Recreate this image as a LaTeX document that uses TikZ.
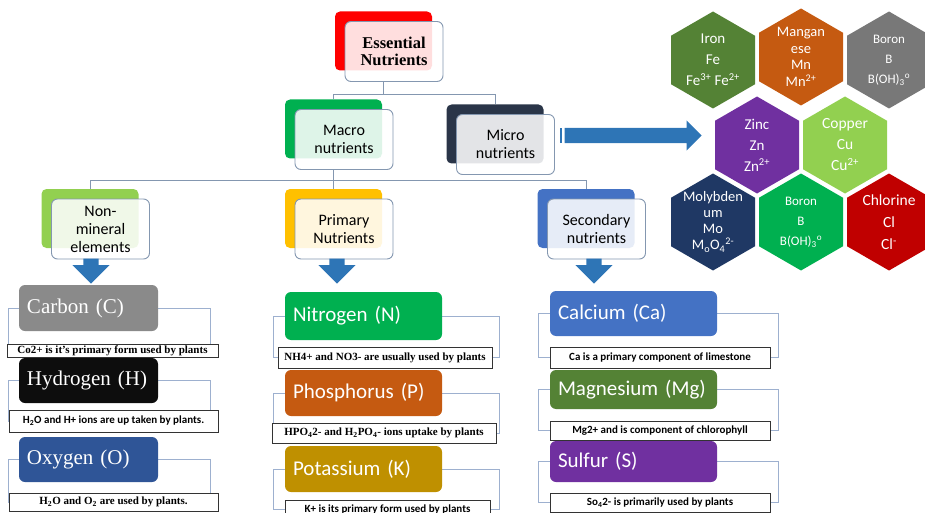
\documentclass[tikz,border=0pt]{standalone}
\usepackage{fontspec}
\setmainfont{Carlito}
\newfontfamily\timesf{Liberation Serif}
\usetikzlibrary{shapes.geometric, shapes.arrows, backgrounds}
\definecolor{linkgray}{HTML}{8497B0}
\definecolor{brackblue}{HTML}{9DB0CF}
\definecolor{arrblue}{HTML}{2E75B6}
\definecolor{essred}{HTML}{FF0000}
\definecolor{macrogreen}{HTML}{00B050}
\definecolor{micronavy}{HTML}{2A3548}
\definecolor{nongreen}{HTML}{92D050}
\definecolor{priyellow}{HTML}{FFC000}
\definecolor{secblue}{HTML}{4472C4}
\definecolor{carbgray}{HTML}{8A8A8A}
\definecolor{hydblack}{HTML}{0D0D0D}
\definecolor{oxyblue}{HTML}{2F5597}
\definecolor{nitgreen}{HTML}{00B050}
\definecolor{phosorange}{HTML}{C55A11}
\definecolor{potgold}{HTML}{BF9000}
\definecolor{calblue}{HTML}{4472C4}
\definecolor{maggreen}{HTML}{548235}
\definecolor{sulpurple}{HTML}{7030A0}
\definecolor{hexiron}{HTML}{548235}
\definecolor{hexmang}{HTML}{C55A11}
\definecolor{hexgray}{HTML}{787878}
\definecolor{hexzinc}{HTML}{7030A0}
\definecolor{hexcopper}{HTML}{92D050}
\definecolor{hexmoly}{HTML}{1F3864}
\definecolor{hexboron}{HTML}{00B050}
\definecolor{hexchlor}{HTML}{C00000}
\def \elemfont {\fontsize{21}{24}\selectfont}
\def \descfont {\bfseries\fontsize{11}{12}\selectfont}
\tikzstyle{backbox}=[rounded corners=5pt, minimum width=97pt, minimum height=59pt]
\tikzstyle{frontbox}=[rounded corners=6pt, draw=linkgray, line width=0.9pt, fill=white, fill opacity=0.87, text opacity=1, minimum width=98pt, minimum height=60pt, align=center]
\tikzstyle{headsans}=[font=\fontsize{16}{18}\selectfont]
\tikzstyle{headserif}=[font=\timesf\bfseries\fontsize{16.5}{17.5}\selectfont]
\tikzstyle{link}=[draw=linkgray, line width=0.9pt]
\tikzstyle{bracket}=[draw=brackblue, line width=0.9pt]
\tikzstyle{elem}=[rounded corners=6pt, text=white, inner xsep=8pt, inner ysep=0pt, align=left, font=\elemfont]
\tikzstyle{desc}=[draw=black!80, fill=white, line width=0.8pt, inner sep=0pt, align=center, font=\descfont]
\tikzstyle{hexa}=[regular polygon, regular polygon sides=6, shape border rotate=30, minimum size=97pt, inner sep=0pt]
\tikzstyle{hextext}=[text=white, align=center, inner sep=0pt]
\tikzstyle{blockarrow}=[single arrow, fill=arrblue, inner sep=7.5pt, single arrow head extend=11pt, anchor=tip]

\begin{document}
\begin{tikzpicture}[x=1pt, y=-1pt]
\useasboundingbox (0,0) rectangle (925,513);
\clip (0,0) rectangle (925,513);

\foreach \n/\x/\y/\col/\st/\txt in {ess/383.5/41/essred/headserif/{Essential\\Nutrients}, macro/333.5/129/macrogreen/headsans/{Macro\\nutrients}, micro/495/134/micronavy/headsans/{Micro\\nutrients}, non/90/218.5/nongreen/headsans/{Non-\\mineral\\elements}, pri/333.5/218.5/priyellow/headsans/{Primary\\Nutrients}, sec/586/218.5/secblue/headsans/{Secondary\\nutrients}}
{
    \node[backbox, fill=\col] (B\n) at (\x,\y) {};
    \node[frontbox, \st] (\n) at (\x+10.5,\y+10.5) {\txt};
}

\draw[link] (Bess |- ess.south) -- ++(0,13) coordinate (J1) -| (Bmacro.north);
\draw[link] (J1) -| (Bmicro.north);
\draw[link] (Bmacro |- macro.south) -- ++(0,10) coordinate (J2) -| (Bnon.north);
\foreach \n in {pri, sec}
    \draw[link] (J2) -| (B\n.north);

\node[blockarrow, minimum height=137pt, single arrow head extend=7.5pt] (toHex) at (702,135.5) {};
\fill[arrblue] ([xshift=-5pt, yshift=-7.5pt]toHex.tail) rectangle ([xshift=-2.5pt, yshift=7.5pt]toHex.tail);
\foreach \n/\x in {non/91, pri/337, sec/594}
    \node[blockarrow, minimum height=25pt, rotate=-90] (A\n) at (\x,284) {};

\foreach \n/\x/\y/\col/\s/\ls/\txt in {iron/713/60/hexiron/15/21/{Iron\\Fe\\Fe\textsuperscript{3+} Fe\textsuperscript{2+}}, mang/801/57/hexmang/14.5/16.5/{Mangan\\ese\\Mn\\Mn\textsuperscript{2+}}, boron/889/60/hexgray/13/20/{Boron\\B\\B(OH)\textsubscript{3}\textsuperscript{o}}, zinc/757/145/hexzinc/15/21/{Zinc\\Zn\\Zn\textsuperscript{2+}}, copper/845/145/hexcopper/15.5/21/{Copper\\Cu\\Cu\textsuperscript{2+}}, moly/713/222/hexmoly/14.5/16/{Molybden\\um\\Mo\\M\textsubscript{o}O\textsubscript{4}\textsuperscript{2-}}, boronB/801/222/hexboron/13/20/{Boron\\B\\B(OH)\textsubscript{3}\textsuperscript{o}}, chlor/889/222/hexchlor/15.5/22/{Chlorine\\Cl\\Cl\textsuperscript{-}}}
    \node[hexa, fill=\col, label={[hextext, font=\fontsize{\s}{\ls}\selectfont]center:\txt}] (\n) at (\x,\y) {};

\coordinate (L1) at (8,0);
\coordinate (R1) at (210,0);
\coordinate (L2) at (273,0);
\coordinate (R2) at (499,0);
\coordinate (L3) at (538,0);
\coordinate (R3) at (778,0);

\foreach \n/\y/\h/\col/\txt/\dx/\dy/\dw/\dh/\dtxt in {C/308/46/carbgray/{\timesf Carbon (C)}/112.5/350.5/211/13/{\timesf Co2+ is it’s primary form used by plants}, H/380.5/45/hydblack/{\timesf Hydrogen (H)}/113.5/421/209/22/{H\textsubscript{2}O and H+ ions are up taken by plants.}, O/459.5/45/oxyblue/{\timesf Oxygen (O)}/113.5/502/209/18/{\timesf H\textsubscript{2}O and O\textsubscript{2} are used by plants.}}
{
    \node[elem, text width=123pt, minimum height=\h pt, fill=\col] (\n) at (88.5,\y) {\txt};
    \node[desc, minimum width=\dw pt, minimum height=\dh pt] (d\n) at (\dx,\dy) {\dtxt};
    \begin{scope}[on background layer]
        \draw[bracket] (\n.center -| L1) rectangle (d\n.center -| R1);
    \end{scope}
}

\foreach \n/\y/\h/\col/\txt/\dx/\dy/\dw/\dh/\dtxt in {N/316/48/nitgreen/{Nitrogen (N)}/385/357.5/214/21/{\timesf NH4+ and NO3- are usually used by plants}, P/393/46/phosorange/{Phosphorus (P)}/384/433/224/20/{\timesf HPO\textsubscript{4}2- and H\textsubscript{2}PO\textsubscript{4}- ions uptake by plants}, K/469/46/potgold/{Potassium (K)}/387.5/509/205/18/{K+ is its primary form used by plants}}
{
    \node[elem, text width=141pt, minimum height=\h pt, fill=\col] (\n) at (363.5,\y) {\txt};
    \node[desc, minimum width=\dw pt, minimum height=\dh pt] (d\n) at (\dx,\dy) {\dtxt};
    \begin{scope}[on background layer]
        \draw[bracket] (\n.center -| L2) rectangle (d\n.center -| R2);
    \end{scope}
}

\foreach \n/\y/\h/\col/\txt/\dx/\dy/\dw/\dh/\dtxt in {Ca/313.5/45/calblue/{Calcium (Ca)}/660/357.5/220/21/{Ca is a primary component of limestone}, Mg/389.5/39/maggreen/{Magnesium (Mg)}/660/430.5/220/19/{Mg2+ and is component of chlorophyll}, S/461.5/41/sulpurple/{Sulfur (S)}/660/502.5/220/19/{So\textsubscript{4}2- is primarily used by plants}}
{
    \node[elem, text width=151pt, minimum height=\h pt, fill=\col] (\n) at (633.5,\y) {\txt};
    \node[desc, minimum width=\dw pt, minimum height=\dh pt] (d\n) at (\dx,\dy) {\dtxt};
    \begin{scope}[on background layer]
        \draw[bracket] (\n.center -| L3) rectangle (d\n.center -| R3);
    \end{scope}
}

\end{tikzpicture}
\end{document}
